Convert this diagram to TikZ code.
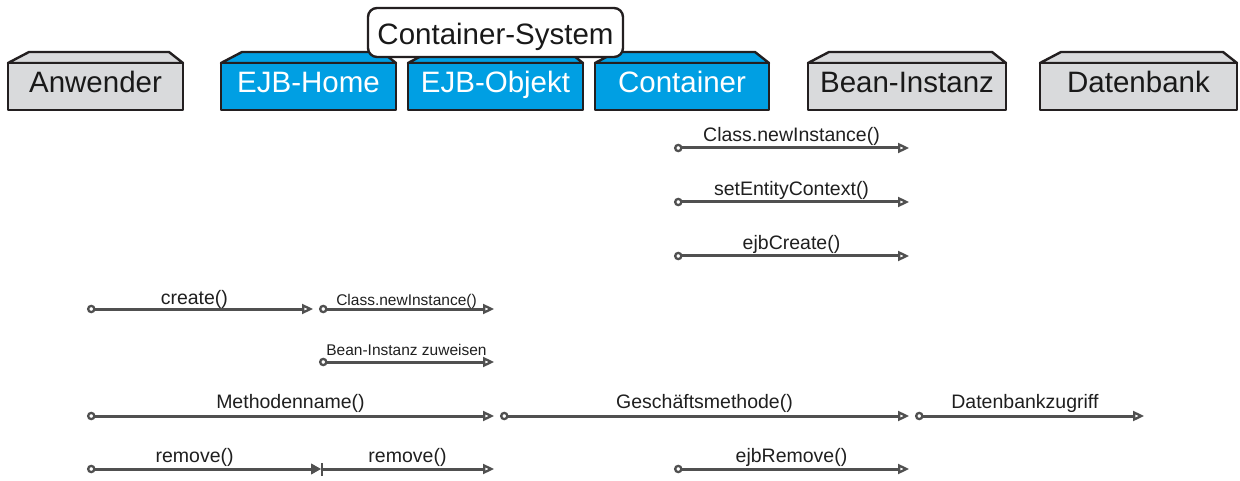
\documentclass[tikz,border=0pt]{standalone}
\usepackage{fontspec}
\setmainfont{Liberation Sans}
\usetikzlibrary{arrows.meta}

\definecolor{crategray}{HTML}{D9DADC}
\definecolor{crateblue}{HTML}{009FE3}
\definecolor{outline}{HTML}{231F20}
\definecolor{msggray}{HTML}{505050}

\tikzset{
  crateface/.style={draw=outline, line width=2.4pt, line join=round},
  cratelabel/.style={anchor=base, inner sep=0pt, font=\fontsize{29.5}{34}\selectfont},
  msg/.style={draw=msggray, line width=3pt,
    {Circle[length=8.5pt,width=8.5pt,fill=white,line width=2.3pt]}-{Triangle[length=11pt,width=10pt,fill=white,line width=2.3pt]}},
  msgstop/.style={draw=msggray, line width=3pt,
    {Circle[length=8.5pt,width=8.5pt,fill=white,line width=2.3pt]}-{Triangle[length=10pt,width=11pt,line width=1pt]}},
  msgcont/.style={draw=msggray, line width=3pt,
    {Bar[width=13pt,line width=2pt]}-{Triangle[length=11pt,width=10pt,fill=white,line width=2.3pt]}},
  msglabel/.style={anchor=base, inner sep=0pt, yshift=6.5pt,
    font=\fontsize{19.5}{23}\selectfont, text=black!88},
  msgsmall/.style={msglabel, font=\fontsize{15.5}{18}\selectfont}
}

% crate: name, left x, right x, fill, text colour, text
\newcommand{\crate}[6]{%
  \draw[crateface, fill=#4] (#2,63) -- (#2+21,52) -- (#3-14,52) -- (#3,63) -- cycle;
  \draw[crateface, fill=#4] (#2,63) rectangle (#3,110);
  \node[cratelabel, text=#5] (#1) at ({(#2+#3)/2},93) {#6};
}

\begin{document}
\begin{tikzpicture}[x=1pt, y=-1pt]
  \useasboundingbox (0,0) rectangle (1240,481);

  % participants
  \crate{anwender}{8}{183}{crategray}{black!90}{Anwender}
  \crate{home}{221}{396}{crateblue}{white}{EJB-Home}
  \crate{objekt}{408}{583}{crateblue}{white}{EJB-Objekt}
  \crate{container}{595}{769}{crateblue}{white}{Container}
  \crate{bean}{808}{1006}{crategray}{black!90}{Bean-Instanz}
  \crate{db}{1040}{1237}{crategray}{black!90}{Datenbank}

  % container system tag
  \node[draw=outline, line width=2.4pt, fill=white, rounded corners=9pt,
        minimum width=255pt, minimum height=49pt, inner sep=0pt] (system)
        at (495.5,32.5) {};
  \node[cratelabel, text=black!90] (systemlabel) at (495.5,45) {Container-System};

  % end points of the messages
  \coordinate (r1s) at (674,148);  \coordinate (r1e) at (909,148);
  \coordinate (r2s) at (674,202);  \coordinate (r2e) at (909,202);
  \coordinate (r3s) at (674,256);  \coordinate (r3e) at (909,256);
  \coordinate (r4s) at (87,309);   \coordinate (r4e) at (313,309);
  \coordinate (r4bs) at (319,309); \coordinate (r4be) at (494,309);
  \coordinate (r5s) at (319,362);  \coordinate (r5e) at (494,362);
  \coordinate (r6s) at (87,416);   \coordinate (r6e) at (494,416);
  \coordinate (r6bs) at (500,416); \coordinate (r6be) at (909,416);
  \coordinate (r6cs) at (915,416); \coordinate (r6ce) at (1144,416);
  \coordinate (r7s) at (87,469);   \coordinate (r7m) at (321,469);
  \coordinate (r7e) at (494,469);
  \coordinate (r7bs) at (674,469); \coordinate (r7be) at (909,469);

  % messages
  \draw[msg] (r1s) -- node[msglabel] (m1) {Class.newInstance()} (r1e);
  \draw[msg] (r2s) -- node[msglabel] (m2) {setEntityContext()} (r2e);
  \draw[msg] (r3s) -- node[msglabel] (m3) {ejbCreate()} (r3e);
  \draw[msg] (r4s) -- node[msglabel, pos=0.475, yshift=-1.5pt] (m4) {create()} (r4e);
  \draw[msg] (r4bs) -- node[msgsmall, yshift=-3pt] (m4b) {Class.newInstance()} (r4be);
  \draw[msg] (r5s) -- node[msgsmall] (m5) {Bean-Instanz zuweisen} (r5e);
  \draw[msg] (r6s) -- node[msglabel, yshift=1pt] (m6) {Methodenname()} (r6e);
  \draw[msg] (r6bs) -- node[msglabel, yshift=1pt] (m6b) {Geschäftsmethode()} (r6be);
  \draw[msg] (r6cs) -- node[msglabel, pos=0.48, yshift=1pt] (m6c) {Datenbankzugriff} (r6ce);
  \draw[msgstop] (r7s) -- node[msglabel, pos=0.46] (m7) {remove()} (r7m);
  \draw[msgcont] (r7m) -- node[msglabel] (m7b) {remove()} (r7e);
  \draw[msg] (r7bs) -- node[msglabel] (m7c) {ejbRemove()} (r7be);
\end{tikzpicture}
\end{document}
